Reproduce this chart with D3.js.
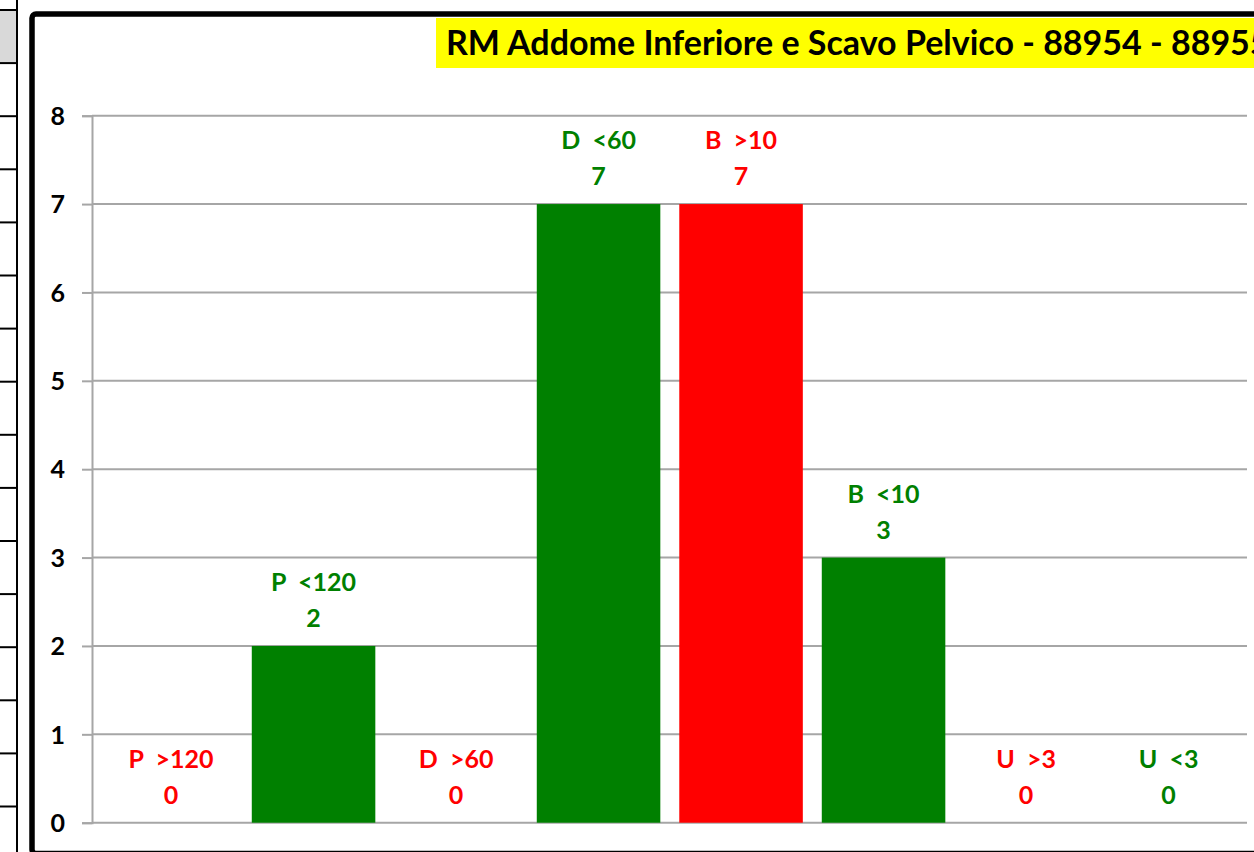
<!DOCTYPE html>
<html>
<head>
<meta charset="utf-8">
<script src="https://cdn.jsdelivr.net/npm/d3@7"></script>
<style>
  html, body { margin: 0; padding: 0; background: #fff; overflow: hidden; }
  svg { display: block; }
  text { font-family: Lato, "Open Sans", sans-serif; font-weight: 700; }
</style>
</head>
<body>
<svg id="chart" width="1254" height="852"></svg>
<script>
// Exam thresholds and counts
const categories = ["P  >120", "P  <120", "D  >60", "D  <60", "B  >10", "B  <10", "U  >3", "U  <3"];
const values = [0, 2, 0, 7, 7, 3, 0, 0];
const yTicks = [0, 1, 2, 3, 4, 5, 6, 7, 8];
const title = "RM Addome Inferiore e Scavo Pelvico - 88954 - 88955";

const RED = "#ff0000", GREEN = "#008000";
const colorOf = c => c.includes(">") ? RED : GREEN;

const svg = d3.select("#chart");

// Spreadsheet column at the far left
const sheet = svg.append("g");
sheet.append("rect").attr("x", 0).attr("y", 10).attr("width", 17).attr("height", 53).attr("fill", "#d9d9d9");
const rowLines = d3.range(10, 852, 53.1);
sheet.selectAll("line.row").data(rowLines).join("line")
  .attr("x1", 0).attr("x2", 17)
  .attr("y1", d => d).attr("y2", d => d)
  .attr("stroke", "#000").attr("stroke-width", 2);
sheet.append("line").attr("x1", 17).attr("x2", 17).attr("y1", 0).attr("y2", 852)
  .attr("stroke", "#000").attr("stroke-width", 2);

// Chart area frame
svg.append("rect")
  .attr("x", 32).attr("y", 14).attr("width", 1300).attr("height", 839.5)
  .attr("rx", 4)
  .attr("fill", "#fff").attr("stroke", "#000").attr("stroke-width", 5.5);

// Title banner (runs past the right edge of the chart area)
svg.append("rect").attr("x", 436).attr("y", 18).attr("width", 900).attr("height", 50).attr("fill", "#ffff00");
svg.append("text").attr("x", 446).attr("y", 55)
  .attr("font-size", 34).attr("fill", "#000").text(title);

// Scales
const y = d3.scaleLinear().domain([0, 8]).range([822.7, 115.7]);
const x = d3.scaleBand().domain(categories).range([99.8, 1239.8])
  .paddingInner(0.133).paddingOuter(0.0665);

const plotLeft = 92, plotRight = 1247;

// Gridlines
svg.append("g").selectAll("line").data(yTicks).join("line")
  .attr("x1", plotLeft).attr("x2", plotRight)
  .attr("y1", d => y(d)).attr("y2", d => y(d))
  .attr("stroke", "#a6a6a6").attr("stroke-width", 2);

// Value axis
const yAxis = svg.append("g").attr("transform", `translate(${plotLeft},0)`)
  .call(d3.axisLeft(y).tickValues(yTicks).tickSize(10).tickPadding(17).tickFormat(d3.format("d")));
yAxis.select(".domain").attr("stroke", "#a6a6a6").attr("stroke-width", 2);
yAxis.selectAll(".tick line").attr("stroke", "#a6a6a6").attr("stroke-width", 2);
yAxis.selectAll(".tick text")
  .attr("font-size", 25).attr("fill", "#000").attr("dy", "0.35em")
  .style("font-family", "Lato, 'Open Sans', sans-serif").style("font-weight", 700);

// Bars
svg.append("g").selectAll("rect").data(categories).join("rect")
  .attr("x", c => x(c))
  .attr("width", x.bandwidth())
  .attr("y", (c, i) => y(values[i]))
  .attr("height", (c, i) => y(0) - y(values[i]))
  .attr("fill", c => colorOf(c));

// Data labels: category name above value
const labels = svg.append("g").selectAll("g").data(categories).join("g")
  .attr("transform", (c, i) => `translate(${x(c) + x.bandwidth() / 2},${y(values[i])})`)
  .attr("fill", c => colorOf(c))
  .attr("text-anchor", "middle")
  .attr("font-size", 25);
labels.append("text").attr("y", -55).style("white-space", "pre").text(c => c);
labels.append("text").attr("y", -19).text((c, i) => values[i]);
</script>
</body>
</html>
